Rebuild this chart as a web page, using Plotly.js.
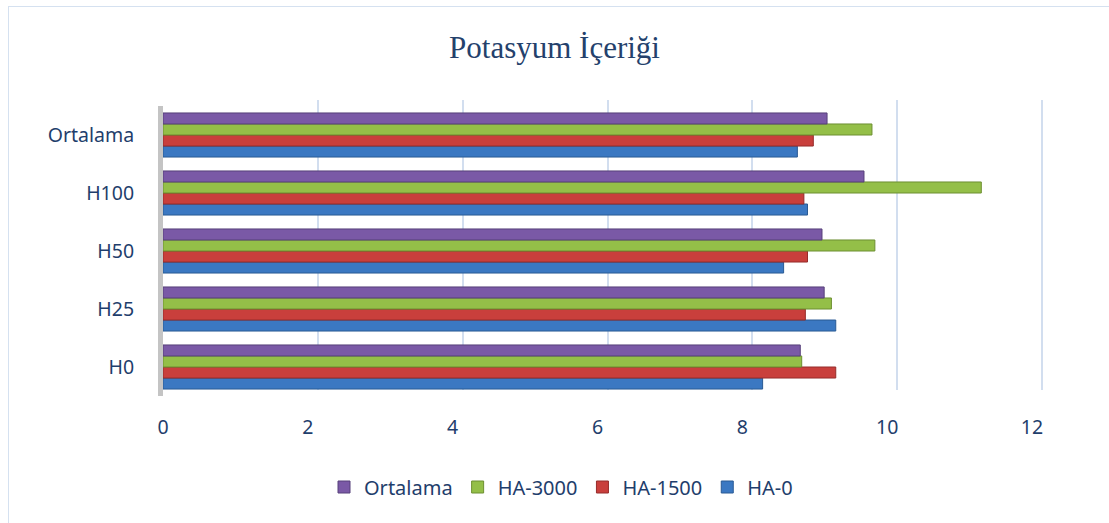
<!DOCTYPE html>
<html>
<head>
<meta charset="utf-8">
<script src="https://cdn.plot.ly/plotly-3.0.1.min.js"></script>
<style>
  html, body { margin: 0; padding: 0; background: #ffffff; }
  #frame { position: absolute; left: 8px; top: 6px; width: 1101px; height: 517px;
           border-left: 1px solid #d5e1f0; border-top: 1px solid #d5e1f0; }
  #chart { position: absolute; left: 0; top: 0; width: 1109px; height: 523px; }
</style>
</head>
<body>
<div id="frame"></div>
<div id="chart"></div>
<script>
const categories = ["H0", "H25", "H50", "H100", "Ortalama"];
const seriesNames = ["HA-0", "HA-1500", "HA-3000", "Ortalama"];
const ha0 = [8.28, 9.29, 8.57, 8.90, 8.76];
const ha1500 = [9.29, 8.87, 8.90, 8.85, 8.98];
const ha3000 = [8.82, 9.23, 9.83, 11.30, 9.79];
const ortalama = [8.80, 9.13, 9.10, 9.68, 9.17];
const xTicks = [0, 2, 4, 6, 8, 10, 12];

const fills = ["#3b78c2", "#c93f3c", "#94bf48", "#7a59a6"];
const edges = ["#2a5a94", "#952c2a", "#6d8f31", "#57407a"];
const values = [ha0, ha1500, ha3000, ortalama];

// first subplot (x/y): back-wall grid, drawn underneath
const traces = [{
  type: "scatter", mode: "markers", x: [null], y: [null],
  xaxis: "x", yaxis: "y", showlegend: false, hoverinfo: "skip"
}];

values.forEach((v, i) => traces.push({
  type: "bar",
  orientation: "h",
  name: seriesNames[i],
  y: categories,
  x: v,
  xaxis: "x2", yaxis: "y2",
  marker: { color: fills[i], line: { color: edges[i], width: 1 } },
  hoverinfo: "x+name"
}));

const txtColor = "#1f3e6c";
const tickFont = { family: "Noto Sans, Open Sans, sans-serif", size: 19.5, color: txtColor };

const layout = {
  width: 1109, height: 523,
  paper_bgcolor: "rgba(0,0,0,0)",
  plot_bgcolor: "rgba(0,0,0,0)",
  margin: { l: 163, r: 57, t: 100, b: 127 },
  title: {
    text: "Potasyum İçeriği",
    font: { family: "Liberation Serif, Times New Roman, serif", size: 31, color: "#24416c" },
    x: 0.5, xref: "container", xanchor: "center",
    y: 1 - 47 / 523, yref: "container", yanchor: "middle"
  },
  barmode: "group",
  bargap: 0.24,
  bargroupgap: 0,
  // back wall grid
  xaxis: {
    domain: [10 / 889, 889 / 889],
    range: [0, 12 * 879 / 869],
    anchor: "y",
    tickvals: xTicks,
    showticklabels: false,
    showgrid: true, gridcolor: "#d2deef", gridwidth: 2,
    zeroline: false, showline: false, ticks: ""
  },
  yaxis: {
    domain: [6 / 296, 1],
    anchor: "x",
    range: [0, 1],
    showgrid: false, showticklabels: false, zeroline: false, showline: false, ticks: ""
  },
  // front plane with bars
  xaxis2: {
    domain: [0, 879 / 889],
    range: [0, 12 * 879 / 869],
    anchor: "y2",
    tickvals: xTicks,
    ticktext: xTicks.map(String),
    showgrid: false, zeroline: false, showline: false,
    ticks: "",
    ticklabelstandoff: 17,
    tickfont: tickFont
  },
  yaxis2: {
    domain: [0, 290 / 296],
    anchor: "x2",
    type: "category",
    categoryorder: "array",
    categoryarray: categories,
    showgrid: false, zeroline: false,
    showline: true, linecolor: "#c4c4c4", linewidth: 5,
    ticks: "",
    ticklabelstandoff: 20,
    tickfont: tickFont
  },
  legend: {
    orientation: "h",
    traceorder: "reversed",
    x: (561 - 163) / 889, xanchor: "center",
    y: (396 - 487) / 296, yanchor: "middle",
    font: { family: "Noto Sans, Open Sans, sans-serif", size: 20, color: txtColor },
    itemwidth: 30
  },
  showlegend: true
};

Plotly.newPlot("chart", traces, layout, { displayModeBar: false, staticPlot: true });
</script>
</body>
</html>
